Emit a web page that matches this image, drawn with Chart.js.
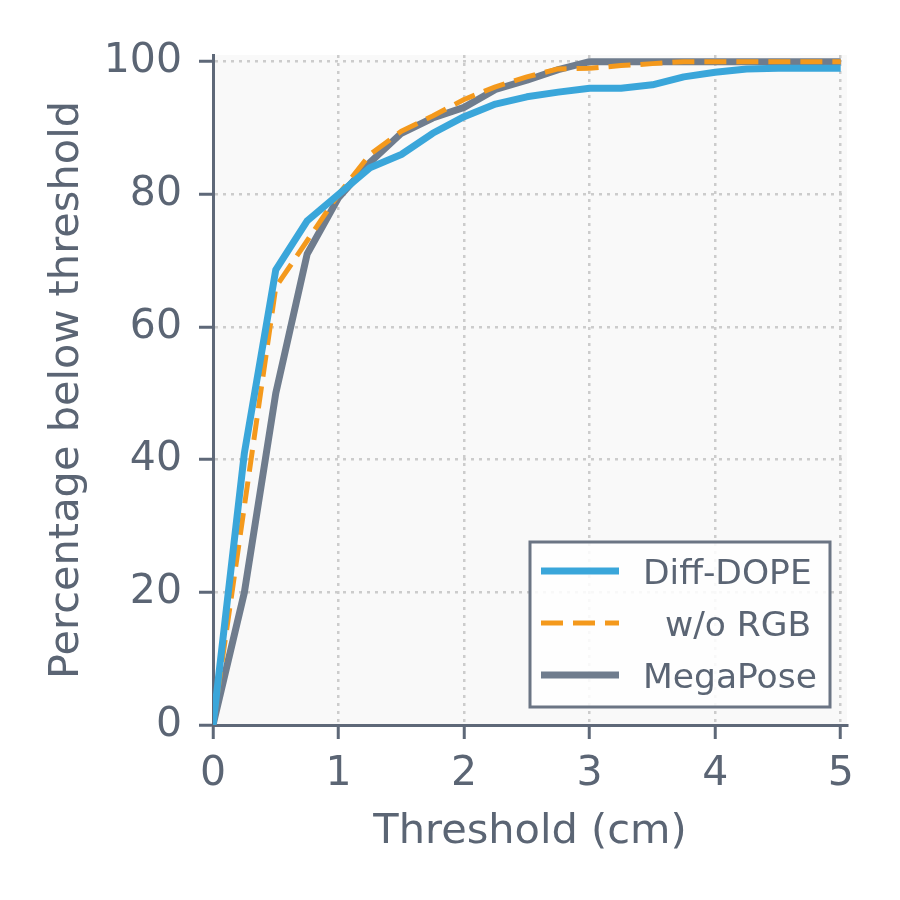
<!DOCTYPE html>
<html>
<head>
<meta charset="utf-8">
<script src="https://cdn.jsdelivr.net/npm/chart.js@4/dist/chart.umd.min.js"></script>
<style>
  html, body { margin: 0; padding: 0; background: #ffffff; }
  #grafico { display: block; }
</style>
</head>
<body>
<canvas id="grafico" width="900" height="900"></canvas>
<script>
// Valores (limiar em cm, percentual abaixo do limiar)
const limiares = [0, 0.25, 0.5, 0.75, 1, 1.25, 1.5, 1.75, 2, 2.25, 2.5, 2.75, 3, 3.25, 3.5, 3.75, 4, 4.25, 4.5, 4.75, 5];
const diffDope = [0, 41, 68.6, 76, 80, 84, 86, 89.2, 91.7, 93.6, 94.7, 95.4, 96, 96, 96.5, 97.7, 98.4, 98.9, 99, 99, 99];
const semRgb   = [0, 33, 66, 73, 80, 86, 89.5, 91.8, 94.3, 96.2, 97.7, 98.9, 99, 99.4, 99.7, 100, 100, 100, 100, 100, 100];
const megaPose = [0, 20, 50, 71, 79.5, 84.8, 89.2, 91.5, 93.1, 95.8, 97.2, 98.8, 100, 100, 100, 100, 100, 100, 100, 100, 100];
const nomes = ['Diff-DOPE', '  w/o RGB', 'MegaPose'];
const ticksX = [0, 1, 2, 3, 4, 5];
const ticksY = [0, 20, 40, 60, 80, 100];

const corTexto = '#5b6574';
const corEixo = '#5e6878';
const fonte = 'DejaVu Sans';

function pares(ys) {
  return limiares.map((x, i) => ({ x: x, y: ys[i] }));
}

const fundoPlot = { // pinta o fundo da área do gráfico
  id: 'fundoPlot',
  beforeDraw(chart) {
    const a = chart.chartArea;
    const c = chart.ctx;
    c.save();
    c.fillStyle = '#f9f9f9';
    c.fillRect(a.left, a.top, a.right - a.left, a.bottom - a.top);
    c.restore();
  }
};

const legenda = { // legenda no canto inferior direito, como na figura
  id: 'legenda',
  afterDraw(chart) {
    const a = chart.chartArea;
    const c = chart.ctx;
    const x0 = a.right - 317, y0 = a.bottom - 183, w = 300, h = 165;
    c.save();
    c.fillStyle = 'rgba(255,255,255,0.85)';
    c.fillRect(x0, y0, w, h);
    c.lineWidth = 3;
    c.strokeStyle = '#6b7584';
    c.strokeRect(x0, y0, w, h);
    c.font = '34.5px "' + fonte + '"';
    c.textBaseline = 'alphabetic';
    c.textAlign = 'left';
    chart.data.datasets.forEach((ds, i) => {
      const ly = y0 + 29 + i * 52;
      c.beginPath();
      c.lineWidth = ds.borderWidth;
      c.strokeStyle = ds.borderColor;
      c.setLineDash(ds.borderDash || []);
      c.moveTo(x0 + 11, ly);
      c.lineTo(x0 + 89, ly);
      c.stroke();
      c.setLineDash([]);
      c.fillStyle = corTexto;
      c.fillText(ds.label, x0 + 113, ly + 12.5);
    });
    c.restore();
  }
};

const ctx = document.getElementById('grafico').getContext('2d');

const config = {
  type: 'line',
  data: {
    datasets: [
      { label: nomes[0], data: pares(diffDope), borderColor: '#3aa6da', borderWidth: 7 },
      { label: nomes[1], data: pares(semRgb), borderColor: '#f4991c', borderWidth: 5, borderDash: [22, 10] },
      { label: nomes[2], data: pares(megaPose), borderColor: '#6f7c8d', borderWidth: 7 }
    ]
  },
  options: {
    responsive: false,
    animation: false,
    devicePixelRatio: 1,
    layout: { padding: { left: 0, top: 55, right: 53, bottom: 0 } },
    elements: {
      point: { radius: 0, hoverRadius: 0 },
      line: { tension: 0, borderJoinStyle: 'round', fill: false }
    },
    scales: {
      x: {
        type: 'linear',
        min: 0,
        max: 5.05,
        afterBuildTicks: s => { s.ticks = ticksX.map(v => ({ value: v })); },
        afterFit: s => { s.height = 175; },
        ticks: {
          autoSkip: false, maxRotation: 0, padding: 11,
          color: corTexto, font: { family: fonte, size: 41 },
          callback: v => String(v)
        },
        grid: {
          color: '#cccccc', lineWidth: 2.5,
          tickLength: 14, tickWidth: 3, tickColor: corEixo
        },
        border: { display: true, color: corEixo, width: 3, dash: [3, 5] },
        title: {
          display: true, text: 'Threshold (cm)', color: corTexto,
          font: { family: fonte, size: 41.5 }, padding: { top: 0, bottom: 43 }
        }
      },
      y: {
        type: 'linear',
        min: 0,
        max: 101,
        afterBuildTicks: s => { s.ticks = ticksY.map(v => ({ value: v })); },
        afterFit: s => { s.width = 213; },
        ticks: {
          autoSkip: false, padding: 17,
          color: corTexto, font: { family: fonte, size: 41 },
          callback: v => String(v)
        },
        grid: {
          color: '#cccccc', lineWidth: 2.5,
          tickLength: 14, tickWidth: 3, tickColor: corEixo
        },
        border: { display: true, color: corEixo, width: 3, dash: [3, 5] },
        title: {
          display: true, text: 'Percentage below threshold', color: corTexto,
          font: { family: fonte, size: 41.5 }, padding: { top: 42, bottom: 0 }
        }
      }
    },
    plugins: {
      legend: { display: false },
      tooltip: { enabled: false }
    }
  },
  plugins: [fundoPlot, legenda]
};

const grafico = new Chart(ctx, config);
</script>
</body>
</html>
